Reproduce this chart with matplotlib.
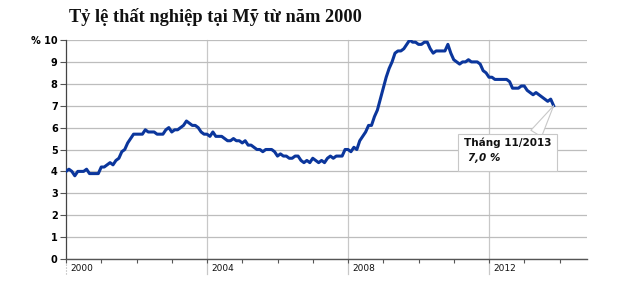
import matplotlib
matplotlib.use("Agg")
import matplotlib.pyplot as plt
import matplotlib.transforms as mtransforms
import numpy as np

# Monthly US unemployment rate (%), Jan 2000 .. Nov 2013
rate_2000 = [4.0, 4.1, 4.0, 3.8, 4.0, 4.0, 4.0, 4.1, 3.9, 3.9, 3.9, 3.9]
rate_2001 = [4.2, 4.2, 4.3, 4.4, 4.3, 4.5, 4.6, 4.9, 5.0, 5.3, 5.5, 5.7]
rate_2002 = [5.7, 5.7, 5.7, 5.9, 5.8, 5.8, 5.8, 5.7, 5.7, 5.7, 5.9, 6.0]
rate_2003 = [5.8, 5.9, 5.9, 6.0, 6.1, 6.3, 6.2, 6.1, 6.1, 6.0, 5.8, 5.7]
rate_2004 = [5.7, 5.6, 5.8, 5.6, 5.6, 5.6, 5.5, 5.4, 5.4, 5.5, 5.4, 5.4]
rate_2005 = [5.3, 5.4, 5.2, 5.2, 5.1, 5.0, 5.0, 4.9, 5.0, 5.0, 5.0, 4.9]
rate_2006 = [4.7, 4.8, 4.7, 4.7, 4.6, 4.6, 4.7, 4.7, 4.5, 4.4, 4.5, 4.4]
rate_2007 = [4.6, 4.5, 4.4, 4.5, 4.4, 4.6, 4.7, 4.6, 4.7, 4.7, 4.7, 5.0]
rate_2008 = [5.0, 4.9, 5.1, 5.0, 5.4, 5.6, 5.8, 6.1, 6.1, 6.5, 6.8, 7.3]
rate_2009 = [7.8, 8.3, 8.7, 9.0, 9.4, 9.5, 9.5, 9.6, 9.8, 10.0, 9.9, 9.9]
rate_2010 = [9.8, 9.8, 9.9, 9.9, 9.6, 9.4, 9.5, 9.5, 9.5, 9.5, 9.8, 9.4]
rate_2011 = [9.1, 9.0, 8.9, 9.0, 9.0, 9.1, 9.0, 9.0, 9.0, 8.9, 8.6, 8.5]
rate_2012 = [8.3, 8.3, 8.2, 8.2, 8.2, 8.2, 8.2, 8.1, 7.8, 7.8, 7.8, 7.9]
rate_2013 = [7.9, 7.7, 7.6, 7.5, 7.6, 7.5, 7.4, 7.3, 7.2, 7.3, 7.0]

start_year = 2000
rates = (rate_2000 + rate_2001 + rate_2002 + rate_2003 + rate_2004 + rate_2005 +
         rate_2006 + rate_2007 + rate_2008 + rate_2009 + rate_2010 + rate_2011 +
         rate_2012 + rate_2013)
x = start_year + np.arange(len(rates)) / 12.0

year_labels = ["2000", "2004", "2008", "2012"]
year_label_pos = [2000, 2004, 2008, 2012]
y_ticks = [0, 1, 2, 3, 4, 5, 6, 7, 8, 9, 10]
y_tick_labels = ["0", "1", "2", "3", "4", "5", "6", "7", "8", "9", "% 10"]

title = "Tỷ lệ thất nghiệp tại Mỹ từ năm 2000"
note_line1 = "Tháng 11/2013"
note_line2 = r" $\mathbfit{7{,}0\ \%}$"

fig = plt.figure(figsize=(6.43, 2.96), dpi=100)
ax = fig.add_axes([66 / 643, 1 - 259 / 296, (587 - 66) / 643, (259 - 40) / 296])

ax.set_xlim(2000, 2014.78)
ax.set_ylim(0, 10)

# horizontal grid
ax.set_yticks(y_ticks)
ax.set_yticklabels(y_tick_labels, fontsize=7, fontweight="bold")
ax.yaxis.grid(True, color="#bdbdbd", lw=0.9)
ax.tick_params(axis="y", length=4, width=0.8, color="#555555", pad=2)

# x axis: yearly minor ticks, labels placed manually
ax.set_xticks(np.arange(2000, 2015, 1))
ax.set_xticklabels([])
ax.tick_params(axis="x", length=3, width=0.8, color="#555555", direction="out")

trans = mtransforms.blended_transform_factory(ax.transData, ax.transAxes)
for yr, lab in zip(year_label_pos, year_labels):
    if yr == 2000:
        ax.plot([yr, yr], [-0.07, 0], transform=trans, color="#aaaaaa", lw=0.8,
                ls=":", clip_on=False, zorder=1)
    else:
        ax.plot([yr, yr], [-0.07, 1], transform=trans, color="#c8c8c8", lw=0.9,
                clip_on=False, zorder=1)
    ax.text(yr + 0.12, -0.025, lab, transform=trans, fontsize=6.5, ha="left",
            va="top", color="#111111")

for s in ["top", "right"]:
    ax.spines[s].set_visible(False)
ax.spines["left"].set_color("#444444")
ax.spines["bottom"].set_color("#555555")
ax.spines["left"].set_linewidth(0.9)
ax.spines["bottom"].set_linewidth(1.0)

ax.plot(x, rates, color="#0b369c", lw=2.2, zorder=3, solid_joinstyle="round")

# callout
ax.annotate(note_line1 + "\n" + note_line2, xy=(x[-1], rates[-1]), xytext=(-90, -32),
            textcoords="offset pixels", ha="left", va="top", fontsize=7.5,
            fontweight="bold", color="#111111", linespacing=1.3,
            bbox=dict(boxstyle="square,pad=0.55", fc="white", ec="#c8c8c8", lw=0.8),
            arrowprops=dict(arrowstyle="wedge,tail_width=1.2",
                            fc="white", ec="#c8c8c8", lw=0.8,
                            shrinkA=0, shrinkB=0, relpos=(0.8, 1.0)),
            zorder=5)

fig.text(69 / 643, 1 - 17 / 296, title, fontsize=13.2, fontweight="bold",
         family="Liberation Serif", ha="left", va="center", color="#111111")

fig.savefig("out.png", dpi=100)
